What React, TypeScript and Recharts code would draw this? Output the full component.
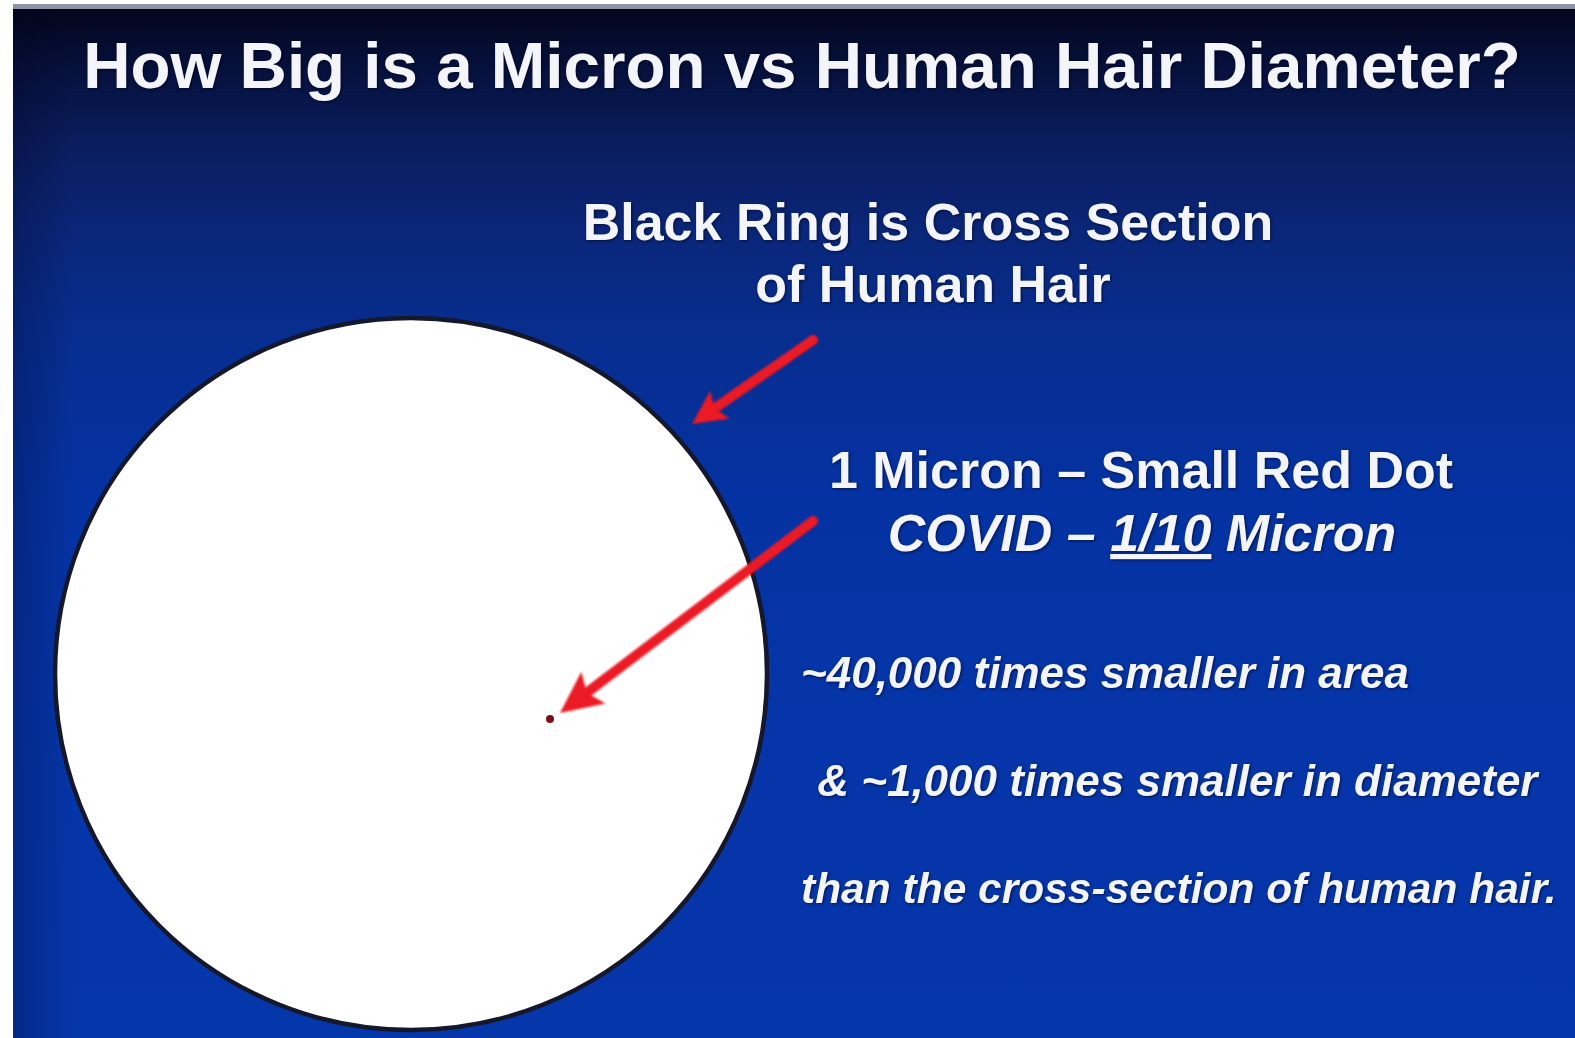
import React from 'react';
import { ScatterChart, Scatter, XAxis, YAxis } from 'recharts';

// slide coordinates (px in the 1575x1038 frame)
const hairRing = [{ x: 411, y: 674 }];
const hairRingRadius = 356;
const micronDot = [{ x: 550, y: 719 }];
const arrowToRing = [{ x: 813, y: 340 }, { x: 692, y: 424 }];
const arrowToDot = [{ x: 813, y: 521 }, { x: 560, y: 713 }];

const titleText = 'How Big is a Micron vs Human Hair Diameter?';
const ringLabel = ['Black Ring is Cross Section', 'of Human Hair'];
const dotLabel = '1 Micron \u2013 Small Red Dot';
const covidLabel = ['COVID \u2013 ', '1/10', ' Micron'];
const compareLines = [
  '~40,000 times smaller in area',
  ' & ~1,000 times smaller in diameter',
  'than the cross-section of human hair.'
];

const W = 1575;
const H = 1038;
const RED = '#ec1a24';

// custom scatter line: shaft + arrow head at the last point
const Arrow = (headLen: number, headHalf: number) => (props: any) => {
  const pts = props.points || [];
  if (pts.length < 2) return <g />;
  const x1 = pts[0].x;
  const y1 = pts[0].y;
  const x2 = pts[1].x;
  const y2 = pts[1].y;
  const dx = x2 - x1;
  const dy = y2 - y1;
  const len = Math.sqrt(dx * dx + dy * dy);
  const ux = dx / len;
  const uy = dy / len;
  const bx = x2 - ux * headLen;
  const by = y2 - uy * headLen;
  const px = -uy * headHalf;
  const py = ux * headHalf;
  const nx = x2 - ux * headLen * 0.8;
  const ny = y2 - uy * headLen * 0.8;
  return (
    <g style={{ filter: 'blur(0.8px)' }}>
      <line x1={x1} y1={y1} x2={nx} y2={ny} stroke={RED} strokeWidth={10} strokeLinecap="round" />
      <polygon points={`${x2},${y2} ${bx + px},${by + py} ${nx},${ny} ${bx - px},${by - py}`} fill={RED} />
    </g>
  );
};

const noPoint = () => <g />;

const textStyle: React.CSSProperties = {
  fontFamily: '"Liberation Sans", Arial, sans-serif',
  fontWeight: 'bold',
  fill: '#f3f5fb',
  filter: 'drop-shadow(1.5px 1.5px 1.5px rgba(0,0,20,0.6))'
};

export default function App() {
  return (
    <div style={{ position: 'absolute', left: 0, top: 0, width: W, height: H, background: '#ffffff', overflow: 'hidden' }}>
      <div
        style={{
          position: 'absolute',
          left: 13,
          top: 4,
          width: W - 13,
          height: H - 4,
          borderTop: '5px solid #8f93a6',
          background:
            'linear-gradient(180deg, #03061c 0px, #050f38 50px, #0a1c5c 130px, #0a2678 220px, #072d8e 320px, #0532a2 480px, #0535a8 700px, #0536aa 1030px)'
        }}
      />
      <div
        style={{
          position: 'absolute',
          left: 13,
          top: 9,
          width: W - 13,
          height: H - 9,
          background: 'linear-gradient(90deg, rgba(0,0,30,0.25) 0px, rgba(0,0,30,0) 60px)'
        }}
      />
      <div style={{ position: 'absolute', left: 0, top: 0 }}>
        <ScatterChart width={W} height={H} margin={{ top: 0, right: 0, bottom: 0, left: 0 }}>
          <XAxis type="number" dataKey="x" domain={[0, W]} hide allowDataOverflow height={0} />
          <YAxis type="number" dataKey="y" domain={[0, H]} reversed hide allowDataOverflow width={0} />
          <Scatter
            data={hairRing}
            isAnimationActive={false}
            shape={(p: any) => (
              <circle cx={p.cx} cy={p.cy} r={hairRingRadius} fill="#ffffff" stroke="#15172a" strokeWidth={4.5} />
            )}
          />
          <Scatter
            data={micronDot}
            isAnimationActive={false}
            shape={(p: any) => <circle cx={p.cx} cy={p.cy} r={4} fill="#7d0c18" />}
          />
          <Scatter data={arrowToRing} isAnimationActive={false} line={Arrow(34, 17)} shape={noPoint} />
          <Scatter data={arrowToDot} isAnimationActive={false} line={Arrow(42, 20)} shape={noPoint} />
        </ScatterChart>
      </div>
      <svg width={W} height={H} style={{ position: 'absolute', left: 0, top: 0, pointerEvents: 'none' }}>
        <text x={802} y={88} textAnchor="middle" fontSize={65.5} style={textStyle}>
          {titleText}
        </text>
        <text x={928} y={240} textAnchor="middle" fontSize={52} style={textStyle}>
          {ringLabel[0]}
        </text>
        <text x={933} y={302} textAnchor="middle" fontSize={52} style={textStyle}>
          {ringLabel[1]}
        </text>
        <text x={1141} y={488} textAnchor="middle" fontSize={52} style={textStyle}>
          {dotLabel}
        </text>
        <text x={1142} y={551} textAnchor="middle" fontSize={52} fontStyle="italic" style={textStyle}>
          {covidLabel[0]}
          <tspan textDecoration="underline" style={{ textDecoration: 'underline' }}>{covidLabel[1]}</tspan>
          {covidLabel[2]}
        </text>
        <text x={801} y={688} fontSize={44} fontStyle="italic" style={textStyle}>
          {compareLines[0]}
        </text>
        <text x={805} y={796} fontSize={44} fontStyle="italic" style={textStyle} xmlSpace="preserve">
          {compareLines[1]}
        </text>
        <text x={801} y={903} fontSize={42.5} fontStyle="italic" style={textStyle}>
          {compareLines[2]}
        </text>
      </svg>
    </div>
  );
}
